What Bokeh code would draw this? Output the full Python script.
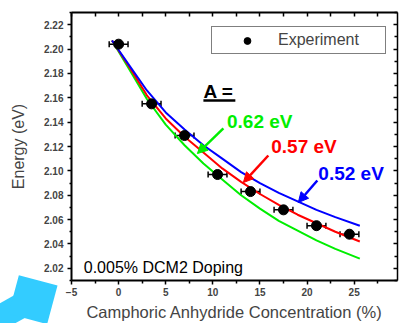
from bokeh.plotting import figure
from bokeh.models import (ColumnDataSource, Whisker, TeeHead, Label, Legend, LegendItem,
                          LinearAxis, FixedTicker, PrintfTickFormatter, Arrow, NormalHead,
                          Range1d, CustomLabelingPolicy)
from bokeh.embed import file_html
from bokeh.resources import INLINE

# ---- data ----
conc = [0, 3.5, 7, 10.5, 14, 17.5, 21, 24.5]
energy = [2.204, 2.155, 2.129, 2.097, 2.083, 2.068, 2.055, 2.048]
conc_err = [1.0, 1.0, 1.0, 1.0, 1.0, 1.0, 1.0, 1.0]

curve_x = [-0.7, 1, 3, 5, 7, 9, 11, 13, 15, 17, 19, 21, 23, 25.6]
fit_062 = [2.207, 2.185, 2.159, 2.138, 2.121, 2.106, 2.093, 2.080, 2.069, 2.059, 2.051, 2.043, 2.036, 2.028]
fit_057 = [2.207, 2.187, 2.162, 2.143, 2.128, 2.115, 2.102, 2.091, 2.081, 2.072, 2.064, 2.057, 2.050, 2.042]
fit_052 = [2.207, 2.188, 2.166, 2.148, 2.134, 2.121, 2.110, 2.099, 2.090, 2.082, 2.075, 2.068, 2.062, 2.055]

x_ticks = [-5, 0, 5, 10, 15, 20, 25]
x_minor = [-2.5, 2.5, 7.5, 12.5, 17.5, 22.5, 27.5]
y_ticks = [2.02, 2.04, 2.06, 2.08, 2.10, 2.12, 2.14, 2.16, 2.18, 2.20, 2.22]
y_minor = [2.01, 2.03, 2.05, 2.07, 2.09, 2.11, 2.13, 2.15, 2.17, 2.19, 2.21, 2.23]

FONT = "Liberation Sans"

p = figure(width=401, height=323, output_backend="svg", toolbar_location=None,
           x_range=Range1d(-5, 29.6), y_range=Range1d(2.01, 2.23),
           min_border_left=71, min_border_right=4, min_border_top=12, min_border_bottom=43)
p.outline_line_color = None
p.xgrid.visible = False
p.ygrid.visible = False
p.background_fill_color = "white"
p.border_fill_color = "white"

# bottom axis
xa = p.xaxis[0]
xa.ticker = FixedTicker(ticks=x_ticks, minor_ticks=x_minor)
xa.axis_label = "Camphoric Anhydride Concentration (%)"
xa.axis_label_text_font = FONT
xa.axis_label_text_font_size = "16.5px"
xa.axis_label_text_font_style = "normal"
xa.axis_label_standoff = 4
xa.major_label_text_font = FONT
xa.major_label_text_font_size = "10px"
xa.major_label_text_font_style = "bold"
xa.major_label_standoff = 3
xa.major_tick_out = 4
xa.major_tick_in = 0
xa.minor_tick_out = 3
xa.minor_tick_in = 0
xa.axis_line_width = 2
xa.major_tick_line_width = 1.5
xa.minor_tick_line_width = 1.5

# left axis
ya = p.yaxis[0]
ya.ticker = FixedTicker(ticks=y_ticks, minor_ticks=y_minor)
ya.formatter = PrintfTickFormatter(format="%.2f")
ya.axis_label = "Energy (eV)"
ya.axis_label_text_font = FONT
ya.axis_label_text_font_size = "16px"
ya.axis_label_text_font_style = "normal"
ya.axis_label_standoff = 14
ya.major_label_text_font = FONT
ya.major_label_text_font_size = "10px"
ya.major_label_text_font_style = "bold"
ya.major_label_standoff = 4
ya.major_tick_out = 4
ya.major_tick_in = 0
ya.minor_tick_out = 2
ya.minor_tick_in = 0
ya.axis_line_width = 2
ya.major_tick_line_width = 1.5
ya.minor_tick_line_width = 1.5

NO_LABELS = ("try { indices.clear(); } catch (e) { "
             "for (const i of Array.from(indices)) { indices.unset(i); } } "
             "return indices;")

# top axis (ticks only)
top = LinearAxis(ticker=FixedTicker(ticks=x_ticks + x_minor, minor_ticks=[]),
                 major_label_policy=CustomLabelingPolicy(code=NO_LABELS),
                 major_label_text_font_size="0px", major_label_standoff=0,
                 major_tick_in=4, major_tick_out=0, minor_tick_in=0, minor_tick_out=0,
                 axis_line_width=2, major_tick_line_width=1.5)
p.add_layout(top, "above")

# right axis (ticks only)
right = LinearAxis(ticker=FixedTicker(ticks=y_ticks, minor_ticks=y_minor),
                   major_label_policy=CustomLabelingPolicy(code=NO_LABELS),
                   major_label_text_font_size="0px", major_label_standoff=0,
                   major_tick_in=4, major_tick_out=0, minor_tick_in=3, minor_tick_out=0,
                   axis_line_width=1.5, major_tick_line_width=1.5, minor_tick_line_width=1.5)
p.add_layout(right, "right")

# model curves
p.line(curve_x, fit_062, line_color="#00ee00", line_width=2)
p.line(curve_x, fit_057, line_color="#ff0000", line_width=2)
p.line(curve_x, fit_052, line_color="#0000ff", line_width=2)

# experiment points with horizontal error bars
src = ColumnDataSource(dict(x=conc, y=energy,
                            lo=[c - e for c, e in zip(conc, conc_err)],
                            hi=[c + e for c, e in zip(conc, conc_err)]))
wh = Whisker(source=src, base="y", lower="lo", upper="hi", dimension="width",
             line_color="black", line_width=1.5,
             lower_head=TeeHead(size=6, line_color="black", line_width=1.5),
             upper_head=TeeHead(size=6, line_color="black", line_width=1.5))
p.add_layout(wh)
pts = p.scatter("x", "y", source=src, size=10, marker="circle",
                fill_color="black", line_color="black")

legend = Legend(items=[LegendItem(label="Experiment", renderers=[pts])],
                location=(140, 226), padding=4, margin=0, spacing=0,
                glyph_width=62, glyph_height=17, label_standoff=0, label_width=103,
                label_text_font=FONT, label_text_font_size="16px",
                border_line_color="black", border_line_width=1,
                background_fill_color="white", background_fill_alpha=1.0)
p.add_layout(legend)

# annotations
p.add_layout(Label(x=9.0, y=2.1651, text="A =", text_font=FONT, text_font_size="19px",
                   text_font_style="bold", text_baseline="middle", text_align="left",
                   text_color="black"))
p.segment(x0=[9.0], y0=[2.1578], x1=[12.39], y1=[2.1578], line_color="black", line_width=2.5)

for tx, ty, txt, col in [(11.5, 2.1405, "0.62 eV", "#00ee00"),
                         (16.2, 2.1196, "0.57 eV", "#ff0000"),
                         (21.2, 2.0981, "0.52 eV", "#0000ff")]:
    p.add_layout(Label(x=tx, y=ty, text=txt, text_font=FONT, text_font_size="19px",
                       text_font_style="bold", text_baseline="middle", text_align="left",
                       text_color=col))

for xs, ys, xe, ye, col in [(11.12, 2.1348, 8.36, 2.1142, "#00ee00"),
                            (15.89, 2.1126, 13.24, 2.0904, "#ff0000"),
                            (21.09, 2.0921, 19.07, 2.0740, "#0000ff")]:
    p.add_layout(Arrow(x_start=xs, y_start=ys, x_end=xe, y_end=ye,
                       line_color=col, line_width=2.5,
                       end=NormalHead(size=10, fill_color=col, line_color=col, line_width=1)))

p.add_layout(Label(x=-3.7, y=2.021, text="0.005% DCM2 Doping", text_font=FONT,
                   text_font_size="16px", text_baseline="middle", text_align="left",
                   text_color="black"))

# decorative cyan block arrow at bottom-left (partly outside the window)
CYAN = "#33ccff"
p.add_layout(Arrow(x_start=-18.542, y_start=1.95414, x_end=-9.263, y_end=1.99396,
                   line_color=CYAN, line_width=25,
                   end=NormalHead(size=60, fill_color=CYAN, line_color=CYAN, line_width=1)))
p.add_layout(Arrow(x_start=-17.280, y_start=2.01128, x_end=-7.036, y_end=1.99001,
                   line_color=CYAN, line_width=50,
                   end=NormalHead(size=40, fill_color=CYAN, line_color=CYAN, line_width=1)))

open("out.html", "w").write(file_html(p, INLINE))
